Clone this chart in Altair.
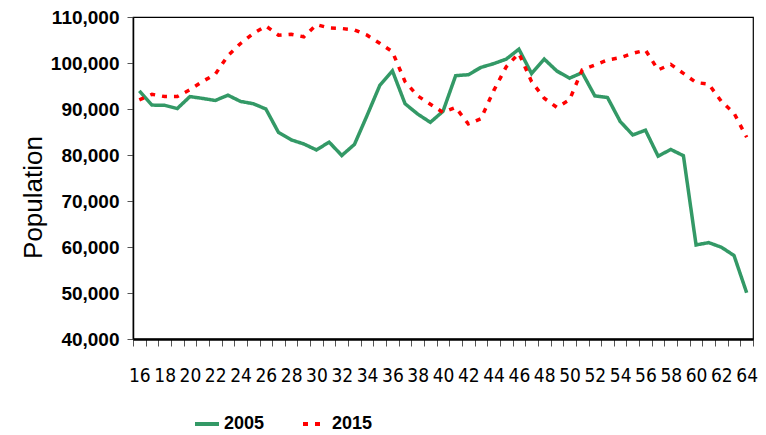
import altair as alt
import pandas as pd

ages = list(range(16, 65))
pop_2005 = [93950, 90850, 90800, 90100, 92700, 92300, 91850, 93000, 91650, 91150,
            90000, 84900, 83300, 82400, 81100, 82800, 79900, 82300, 88600, 95100,
            98300, 91150, 88900, 87100, 89500, 97250, 97450, 99050, 99850, 100850,
            103000, 97700, 100850, 98250, 96700, 97900, 92850, 92500, 87300, 84350,
            85400, 79750, 81200, 79850, 60450, 60950, 59950, 58150, 50050]
pop_2015 = [92000, 93200, 92700, 92700, 94200, 96000, 97550, 101600, 104250, 106400,
            108050, 106050, 106250, 105700, 108350, 107600, 107500, 107200, 106050, 104300,
            102450, 95950, 92850, 91050, 89250, 90350, 86750, 87900, 93950, 99200,
            102100, 95950, 92350, 90350, 92000, 98500, 99550, 100650, 101150, 102100,
            102800, 98500, 99700, 97750, 95750, 95400, 91650, 89100, 83850]
series = ["2005", "2015"]
colors = ["#339966", "#FF0000"]

df = pd.DataFrame({
    "age": ages * 2,
    "pop": pop_2005 + pop_2015,
    "year": [series[0]] * len(ages) + [series[1]] * len(ages),
})

FONT = "DejaVu Sans Condensed, Liberation Sans Narrow, Liberation Sans, Arial"

chart = alt.Chart(df).mark_line(strokeWidth=3.5).encode(
    x=alt.X("age:O", bandPosition=0.5,
            scale=alt.Scale(type="band", paddingInner=0, paddingOuter=0),
            axis=alt.Axis(title=None, labelAngle=0, tickBand="extent",
                          labelExpr="datum.value % 2 == 0 ? datum.label : ''",
                          labelFont=FONT, labelFontSize=19, labelColor="black",
                          labelPadding=20, tickSize=7, tickColor="#555",
                          domainColor="black", domainWidth=2.5, labelBaseline="top")),
    y=alt.Y("pop:Q",
            scale=alt.Scale(domain=[40000, 110000], nice=False, zero=False),
            axis=alt.Axis(title="Population", values=list(range(40000, 110001, 10000)),
                          format=",.0f", grid=False, labelFont="Liberation Sans, Arial",
                          labelFontSize=19, labelFontWeight="bold", labelColor="black",
                          labelPadding=8, tickSize=6, tickColor="#555",
                          domainColor="black", domainWidth=1.5,
                          titleFont="Liberation Sans, Arial", titleFontSize=26,
                          titleFontWeight="normal", titleColor="black",
                          titleX=-100, titleY=180, titleAngle=-90,
                          titleAlign="center", titleBaseline="middle")),
    color=alt.Color("year:N", scale=alt.Scale(domain=series, range=colors),
                    legend=alt.Legend(title=None, orient="none", direction="horizontal",
                                      legendX=60, legendY=393, padding=0,
                                      symbolType="stroke", symbolSize=576,
                                      symbolStrokeWidth=4, labelOffset=3,
                                      columnPadding=30, labelFont="Liberation Sans, Arial",
                                      labelFontSize=18, labelFontWeight="bold",
                                      labelColor="black")),
    strokeDash=alt.StrokeDash("year:N",
                              scale=alt.Scale(domain=series, range=[[1, 0], [5, 7]]),
                              legend=None),
).properties(
    width=620, height=322,
    autosize=alt.AutoSizeParams(type="none"),
    padding={"left": 125, "top": 9, "right": 5, "bottom": 96},
).configure_view(stroke="black", strokeWidth=1.2)

chart.save("out.html", embed_options={"renderer": "svg", "actions": False})
